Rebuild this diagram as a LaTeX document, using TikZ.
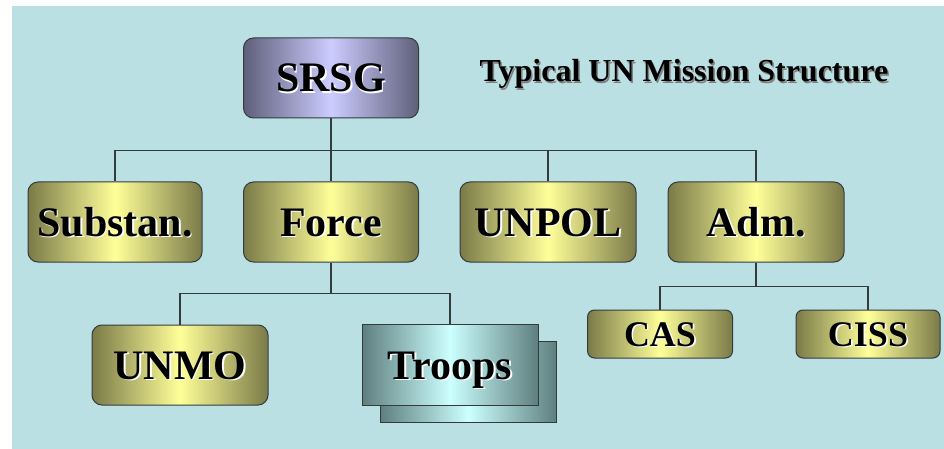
\documentclass[tikz,border=0pt]{standalone}
\usepackage{fontspec}
\setmainfont{Liberation Serif}
\usetikzlibrary{positioning, calc}

\definecolor{bgteal}{HTML}{BAE0E3}
\definecolor{olivedark}{HTML}{7A7A48}
\definecolor{olivelight}{HTML}{FFFF99}
\definecolor{violetdark}{HTML}{5F5F7A}
\definecolor{violetlight}{HTML}{CCCCFF}
\definecolor{tealdark}{HTML}{5F7F7F}
\definecolor{teallight}{HTML}{CCFFFF}
\definecolor{linegray}{HTML}{333B3D}

% black letters with a white copy just below right
\newcommand{\embossed}[1]{\makebox[0pt][l]{\hspace{1.6pt}\raisebox{-1.6pt}{\color{white}#1}}#1}

\begin{document}
\begin{tikzpicture}[
    x=1pt, y=-1pt,
    unit/.style={draw=linegray, line width=1pt, rounded corners=10pt,
        left color=olivedark, right color=olivedark, middle color=olivelight,
        minimum width=175pt, minimum height=80pt, inner sep=0pt,
        font=\fontsize{42}{42}\bfseries, text height=28pt, text depth=0pt},
    subunit/.style={unit, rounded corners=7pt, minimum width=145pt, minimum height=48pt,
        font=\fontsize{36}{36}\bfseries, text height=24pt},
    headbox/.style={unit, left color=violetdark, right color=violetdark, middle color=violetlight},
    troopbox/.style={unit, rounded corners=0pt, left color=tealdark, right color=tealdark,
        middle color=teallight, minimum height=81pt},
    conn/.style={draw=linegray, line width=1.3pt}
]

    \useasboundingbox (0,0) rectangle (944,449);
    \fill[bgteal] (12,6) rectangle (944,449);

    % Head of mission
    \node[headbox] (srsg) at (331,78) {\embossed{SRSG}};
    \node[font=\fontsize{32}{32}\bfseries] (title) at (684,75)
        {\makebox[0pt][l]{\hspace{1.5pt}\raisebox{-1.5pt}{\color{gray}Typical UN Mission Structure}}Typical UN Mission Structure};

    % Components
    \node[unit, minimum width=174pt] (subst) at (115,222) {\embossed{Substan.}};
    \node[unit] (force) at (331,222) {\embossed{Force}};
    \node[unit, minimum width=176pt] (unpol) at (548,222) {\embossed{UNPOL}};
    \node[unit, minimum width=176pt] (adm) at (756,222) {\embossed{Adm.}};

    % Force elements
    \node[unit, minimum width=176pt] (unmo) at (180,365) {\embossed{UNMO}};
    \node[troopbox, minimum width=176pt] (troopsback) at (468,382) {};
    \node[troopbox, minimum width=176pt] (troops) at (450,365) {\embossed{Troops}};

    % Adm. elements
    \node[subunit] (cas) at (660,334) {\embossed{CAS}};
    \node[subunit, minimum width=144pt] (ciss) at (868,334) {\embossed{CISS}};

    % Connections
    \path (srsg.south) ++(0,32) coordinate (topbus);
    \foreach \c in {subst,force,unpol,adm} {
        \draw[conn] (srsg.south) -- (topbus) -| (\c.north);
    }
    \path (force.south) ++(0,31) coordinate (forcebus);
    \foreach \c in {unmo,troops} {
        \draw[conn] (force.south) -- (forcebus) -| (\c.north);
    }
    \path (adm.south) ++(0,24) coordinate (admbus);
    \foreach \c in {cas,ciss} {
        \draw[conn] (adm.south) -- (admbus) -| (\c.north);
    }

\end{tikzpicture}
\end{document}
